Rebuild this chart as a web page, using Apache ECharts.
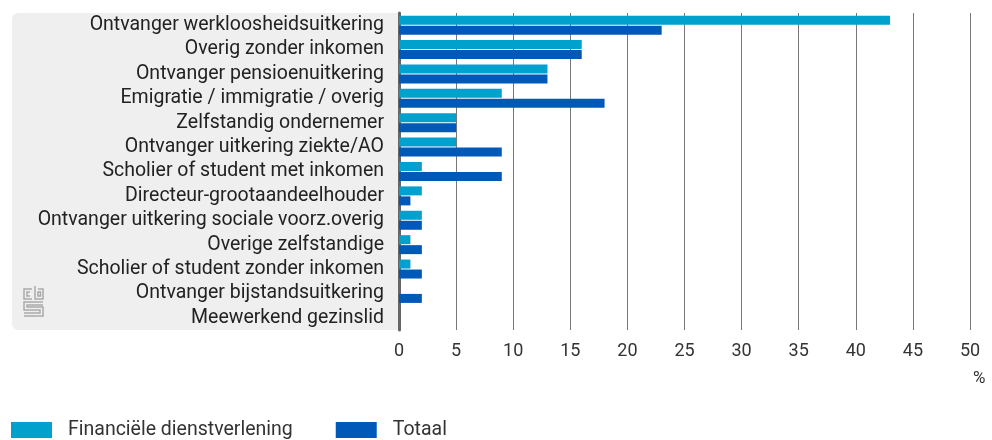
<!DOCTYPE html>
<html>
<head>
<meta charset="utf-8">
<script src="https://cdn.jsdelivr.net/npm/echarts@6/dist/echarts.min.js"></script>
<style>
  html, body { margin: 0; padding: 0; background: #fff; }
  #chart { width: 992px; height: 440px; }
</style>
</head>
<body>
<div id="chart"></div>
<script>
// categorieën, van boven naar beneden
const categories = [
  'Ontvanger werkloosheidsuitkering',
  'Overig zonder inkomen',
  'Ontvanger pensioenuitkering',
  'Emigratie / immigratie / overig',
  'Zelfstandig ondernemer',
  'Ontvanger uitkering ziekte/AO',
  'Scholier of student met inkomen',
  'Directeur-grootaandeelhouder',
  'Ontvanger uitkering sociale voorz.overig',
  'Overige zelfstandige',
  'Scholier of student zonder inkomen',
  'Ontvanger bijstandsuitkering',
  'Meewerkend gezinslid'
]
const financieel = [43, 16, 13, 9, 5, 5, 2, 2, 2, 1, 1, 0, 0]
const totaal = [23, 16, 13, 18, 5, 9, 9, 1, 2, 2, 2, 2, 0]
const xTicks = [0, 5, 10, 15, 20, 25, 30, 35, 40, 45, 50]

const FONT = 'Roboto'
const chart = echarts.init(document.getElementById('chart'))

// cbs logootje links onder in het grijze vlak
const logoLine = { stroke: '#aaaaaa', lineWidth: 1.5, fill: null }
const logo = [
  // c
  { type: 'polyline', shape: { points: [[32, 289], [24, 289], [24, 299], [32, 299]] }, style: logoLine },
  { type: 'polyline', shape: { points: [[30, 292], [27, 292], [27, 296], [30, 296]] }, style: logoLine },
  // b
  { type: 'polyline', shape: { points: [[35, 286], [35, 299], [43, 299], [43, 289], [38, 289]] }, style: logoLine },
  { type: 'rect', shape: { x: 38, y: 292, width: 2.5, height: 4 }, style: logoLine },
  // s
  { type: 'polyline', shape: { points: [[43, 302], [24, 302], [24, 310], [40, 310], [40, 313], [24, 313]] }, style: logoLine },
  { type: 'polyline', shape: { points: [[43, 305], [27, 305], [27, 307], [43, 307], [43, 316], [24, 316]] }, style: logoLine }
]

const option = {
  animation: false,
  textStyle: { fontFamily: FONT },
  graphic: [
    {
      type: 'rect',
      z: -10,
      shape: { x: 12, y: 13, width: 388, height: 317, r: [6, 0, 0, 6] },
      style: { fill: '#efefef' }
    },
    {
      type: 'text',
      left: 973,
      top: 370,
      style: { text: '%', font: '17px ' + FONT, fill: '#333' }
    }
  ].concat(logo),
  legend: {
    left: 6,
    top: 415,
    itemWidth: 41,
    itemHeight: 16,
    itemGap: 43,
    icon: 'rect',
    selectedMode: false,
    textStyle: { fontSize: 19.5, color: '#333', fontFamily: FONT, padding: [0, 0, 0, 11] },
    data: ['Financiële dienstverlening', 'Totaal']
  },
  grid: {
    left: 399,
    right: 22,
    top: 13,
    bottom: 110,
    containLabel: false
  },
  xAxis: {
    type: 'value',
    min: 0,
    max: 50,
    interval: 5,
    axisLine: { show: false },
    axisTick: { show: false },
    axisLabel: {
      fontSize: 18,
      color: '#333',
      margin: 12,
      formatter: v => xTicks.includes(v) ? String(v) : ''
    },
    splitLine: { show: true, lineStyle: { color: '#777', width: 1 } }
  },
  yAxis: {
    type: 'category',
    inverse: true,
    data: categories,
    axisLine: { show: true, lineStyle: { color: '#666', width: 3 } },
    axisTick: { show: false },
    axisLabel: { interval: 0, fontSize: 19.5, lineHeight: 20, color: '#222', margin: 15 }
  },
  series: [
    {
      name: 'Financiële dienstverlening',
      type: 'bar',
      data: financieel,
      barWidth: 9,
      barGap: '11%',
      itemStyle: { color: '#00a1cd' }
    },
    {
      name: 'Totaal',
      type: 'bar',
      data: totaal,
      barWidth: 9,
      itemStyle: { color: '#0058b8' }
    }
  ]
}

chart.setOption(option)
</script>
</body>
</html>
